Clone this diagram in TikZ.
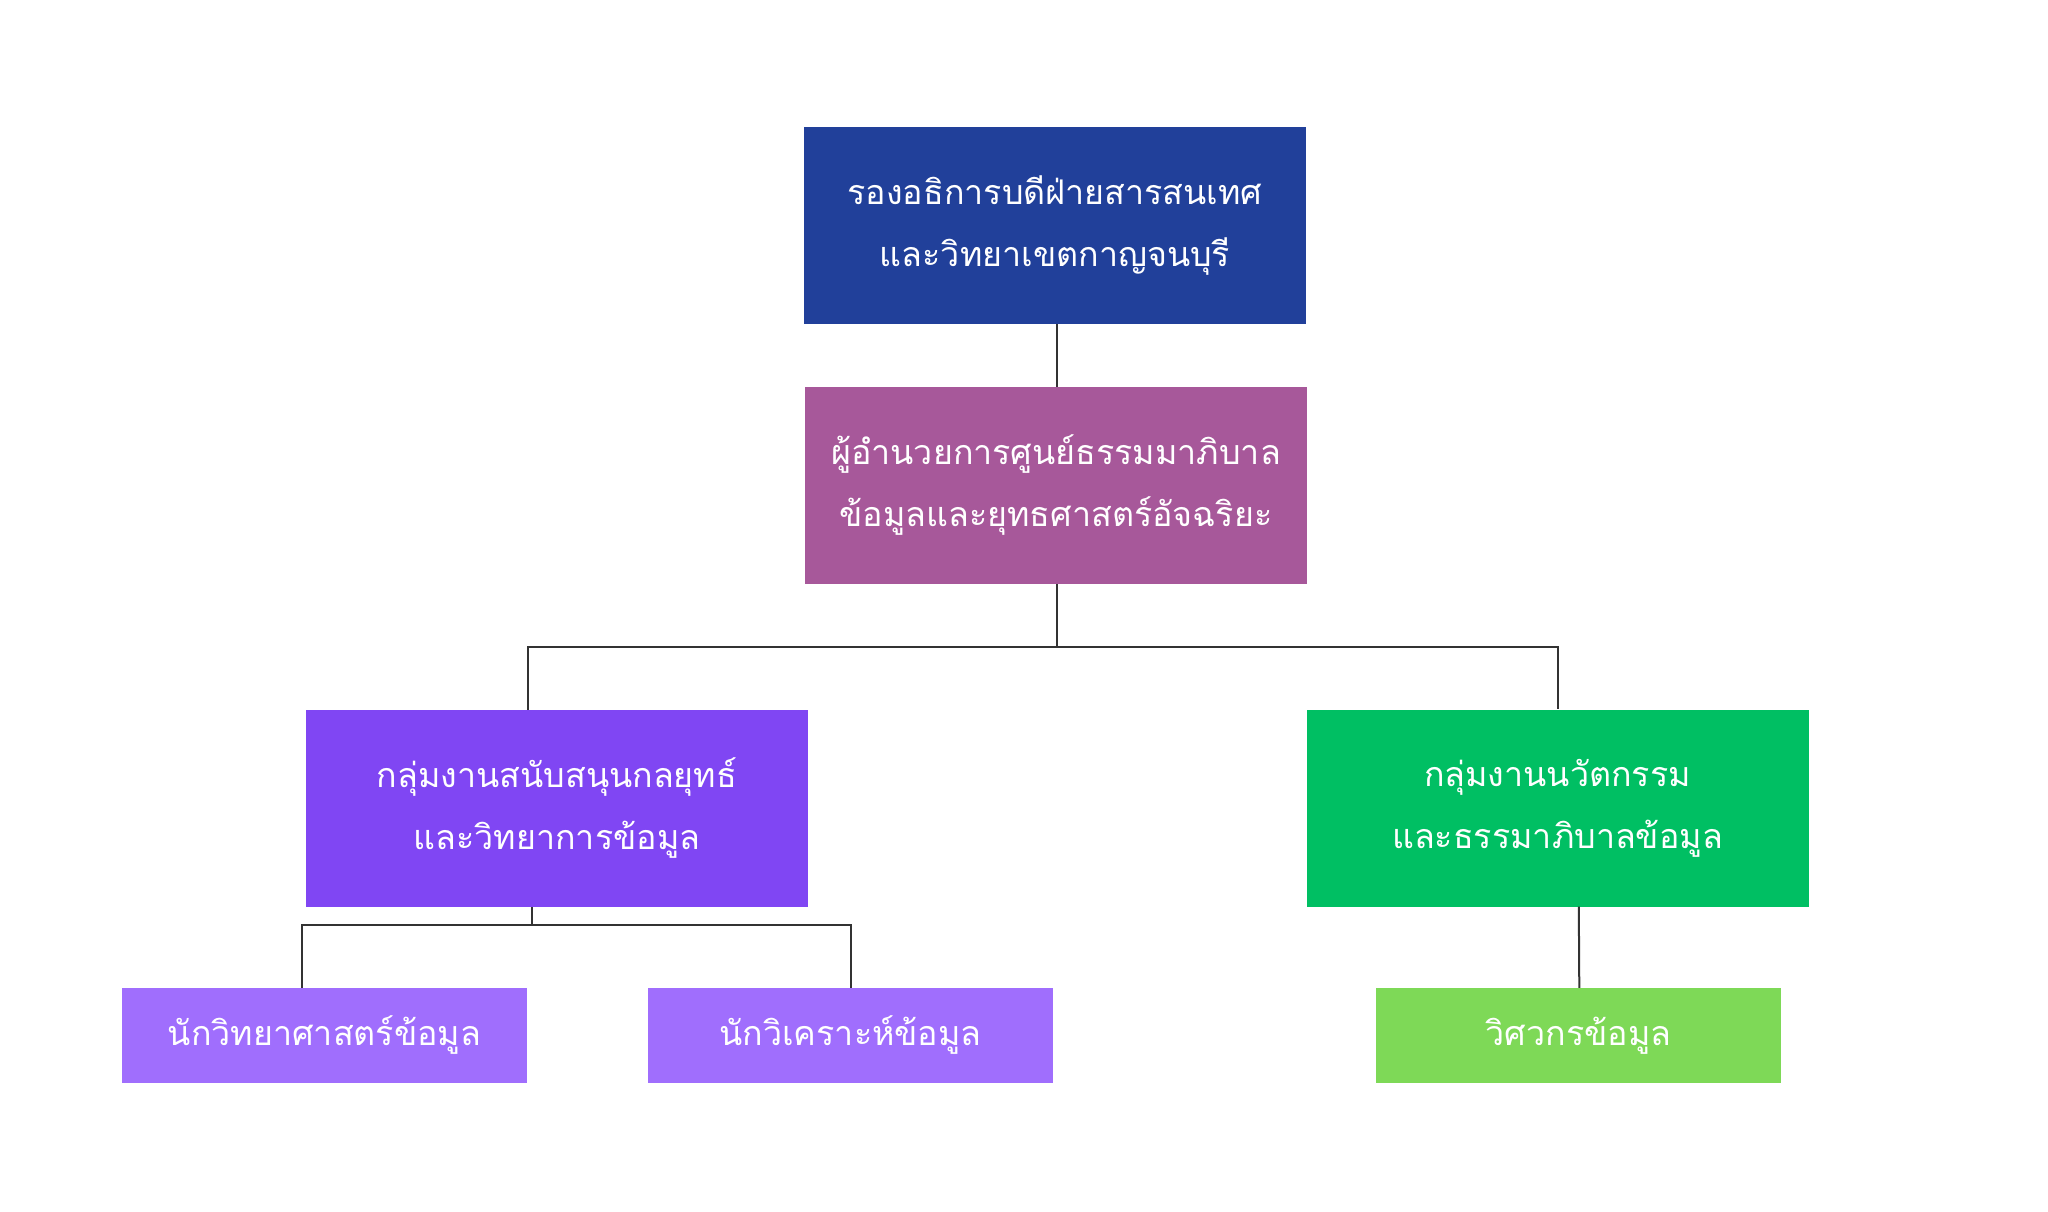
\documentclass[tikz,border=0pt]{standalone}
\usepackage{fontspec}
\newfontfamily\thaifont[Script=Thai]{Loma}
\usetikzlibrary{calc}
\definecolor{cTop}{HTML}{21409A}
\definecolor{cSecond}{HTML}{A7589A}
\definecolor{cLeft}{HTML}{8046F3}
\definecolor{cRight}{HTML}{00BF63}
\definecolor{cLeaf}{HTML}{A06EFD}
\definecolor{cGreen}{HTML}{7ED957}
\definecolor{cLine}{HTML}{333333}
\tikzset{
  orgbox/.style={rectangle, inner sep=0pt, text=white, align=center,
    font=\thaifont\fontsize{34}{62}\selectfont},
  bigbox/.style={orgbox, minimum width=502pt, minimum height=197pt},
  leafbox/.style={orgbox, minimum width=405pt, minimum height=95pt},
  conn/.style={draw=cLine, line width=2pt}
}
\begin{document}
\begin{tikzpicture}[x=1pt,y=-1pt]
\useasboundingbox (0,0) rectangle (2048,1212);
\node[bigbox, fill=cTop] (top) at (1055,225.5) {รองอธิการบดีฝ่ายสารสนเทศ\\และวิทยาเขตกาญจนบุรี};
\node[bigbox, fill=cSecond] (second) at (1056,485.5) {ผู้อำนวยการศูนย์ธรรมมาภิบาล\\ข้อมูลและยุทธศาสตร์อัจฉริยะ};
\node[bigbox, fill=cLeft] (lmid) at (557,808.5) {กลุ่มงานสนับสนุนกลยุทธ์\\และวิทยาการข้อมูล};
\node[bigbox, fill=cRight] (rmid) at (1557.5,808) {กลุ่มงานนวัตกรรม\\และธรรมาภิบาลข้อมูล};
\node[leafbox, fill=cLeaf] (b1) at (324.5,1035.5) {นักวิทยาศาสตร์ข้อมูล};
\node[leafbox, fill=cLeaf] (b2) at (850.5,1035.5) {นักวิเคราะห์ข้อมูล};
\node[leafbox, fill=cGreen] (b3) at (1578.5,1035.5) {วิศวกรข้อมูล};
\coordinate (bus1) at (1057,647);
\coordinate (bus2) at (532,925);
\draw[conn] (top.south -| bus1) -- (second.north -| bus1);
\draw[conn] (second.south -| bus1) -- (bus1);
\draw[conn] (bus1) -| ($(lmid.north west)+(222,0)$);
\draw[conn] (bus1) -| (rmid.north);
\draw[conn] (lmid.south -| bus2) -- (bus2);
\draw[conn] (bus2) -| ($(b1.north west)+(180,0)$);
\draw[conn] (bus2) -| (b2.north);
\draw[conn] ($(rmid.south west)+(272.5,0)$) -- ($(b3.north west)+(203.5,0)$);
\end{tikzpicture}
\end{document}
